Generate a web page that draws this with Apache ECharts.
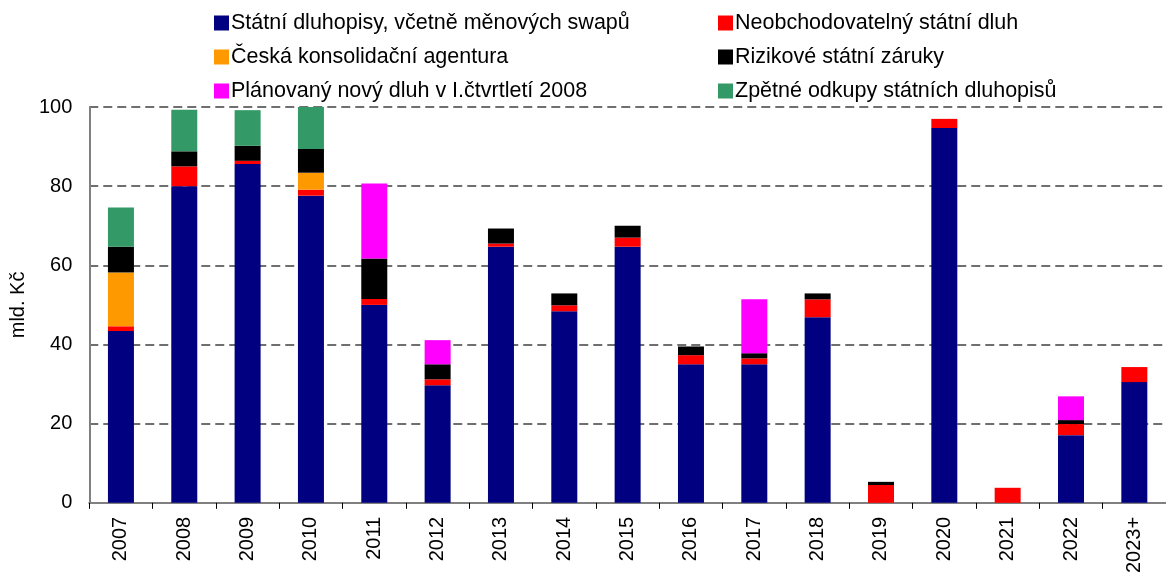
<!DOCTYPE html>
<html>
<head>
<meta charset="utf-8">
<script src="https://cdn.jsdelivr.net/npm/echarts@6/dist/echarts.min.js"></script>
<style>
html,body{margin:0;padding:0;background:#fff;}
#chart{width:1166px;height:576px;}
</style>
</head>
<body>
<div id="chart"></div>
<script>
const categories = ['2007','2008','2009','2010','2011','2012','2013','2014','2015','2016','2017','2018','2019','2020','2021','2022','2023+'];
const seriesNames = [
  'Státní dluhopisy, včetně měnových swapů',
  'Neobchodovatelný státní dluh',
  'Česká konsolidační agentura',
  'Rizikové státní záruky',
  'Plánovaný nový dluh v I.čtvrtletí 2008',
  'Zpětné odkupy státních dluhopisů'
];
const statniDluhopisy = [43.4, 80, 85.6, 77.6, 50, 29.7, 64.7, 48.4, 64.7, 35, 35, 46.9, 0, 94.7, 0, 17.1, 30.5];
const neobchodovatelny = [1.2, 5, 0.8, 1.5, 1.5, 1.5, 0.8, 1.5, 2.3, 2.3, 1.5, 4.5, 4.5, 2.3, 3.8, 2.8, 3.8];
const konsolidacni = [13.6, 0, 0, 4.3, 0, 0, 0, 0, 0, 0, 0, 0, 0, 0, 0, 0, 0];
const rizikoveZaruky = [6.5, 3.8, 3.8, 6.0, 10.2, 3.8, 3.8, 3.0, 3.0, 2.2, 1.3, 1.5, 0.8, 0, 0, 1.0, 0];
const planovanyDluh = [0, 0, 0, 0, 19.0, 6.1, 0, 0, 0, 0, 13.6, 0, 0, 0, 0, 6.0, 0];
const zpetneOdkupy = [9.9, 10.5, 9.0, 10.6, 0, 0, 0, 0, 0, 0, 0, 0, 0, 0, 0, 0, 0];
const yTicks = [0, 20, 40, 60, 80, 100];

const colors = ['#000080', '#FF0000', '#FF9900', '#000000', '#FF00FF', '#339966'];
const values = [statniDluhopisy, neobchodovatelny, konsolidacni, rizikoveZaruky, planovanyDluh, zpetneOdkupy];
const FONT = '"Liberation Sans", Arial, sans-serif';

const chart = echarts.init(document.getElementById('chart'), null, {renderer: 'canvas'});
const legendBase = {
  orient: 'vertical', top: 12, padding: 0, itemWidth: 15, itemHeight: 15, itemGap: 12,
  icon: 'rect', selectedMode: false,
  textStyle: {fontFamily: FONT, fontSize: 21.5, color: '#000', padding: [0, 0, 0, -3]}
};
chart.setOption({
  animation: false,
  backgroundColor: '#fff',
  color: colors,
  legend: [
    Object.assign({}, legendBase, {left: 214, data: [seriesNames[0], seriesNames[2], seriesNames[4]]}),
    Object.assign({}, legendBase, {left: 718, data: [seriesNames[1], seriesNames[3], seriesNames[5]]})
  ],
  grid: {left: 87, top: 107, width: 1088, bottom: 72, containLabel: false},
  xAxis: {
    type: 'category',
    data: categories,
    axisLine: {lineStyle: {color: '#808080', width: 2}},
    axisTick: {show: true, length: 6, lineStyle: {color: '#000', width: 1}},
    axisLabel: {rotate: 90, fontFamily: FONT, fontSize: 20, color: '#000', margin: 14, interval: 0}
  },
  yAxis: {
    type: 'value',
    min: 0, max: 100, interval: 20,
    name: 'mld. Kč',
    nameLocation: 'middle',
    nameRotate: 90,
    nameGap: 56,
    nameTextStyle: {fontFamily: FONT, fontSize: 20, color: '#000'},
    axisLine: {show: true, lineStyle: {color: '#808080', width: 2}},
    axisTick: {show: false},
    axisLabel: {fontFamily: FONT, fontSize: 20, color: '#000', margin: 17,
      formatter: v => yTicks.includes(v) ? String(v) : ''},
    splitLine: {show: true, lineStyle: {color: '#404040', width: 1.5, type: [9, 5]}}
  },
  series: seriesNames.map((name, i) => ({
    name: name,
    type: 'bar',
    stack: 'total',
    barWidth: 26,
    data: values[i],
    itemStyle: {color: colors[i]}
  }))
});
</script>
</body>
</html>
